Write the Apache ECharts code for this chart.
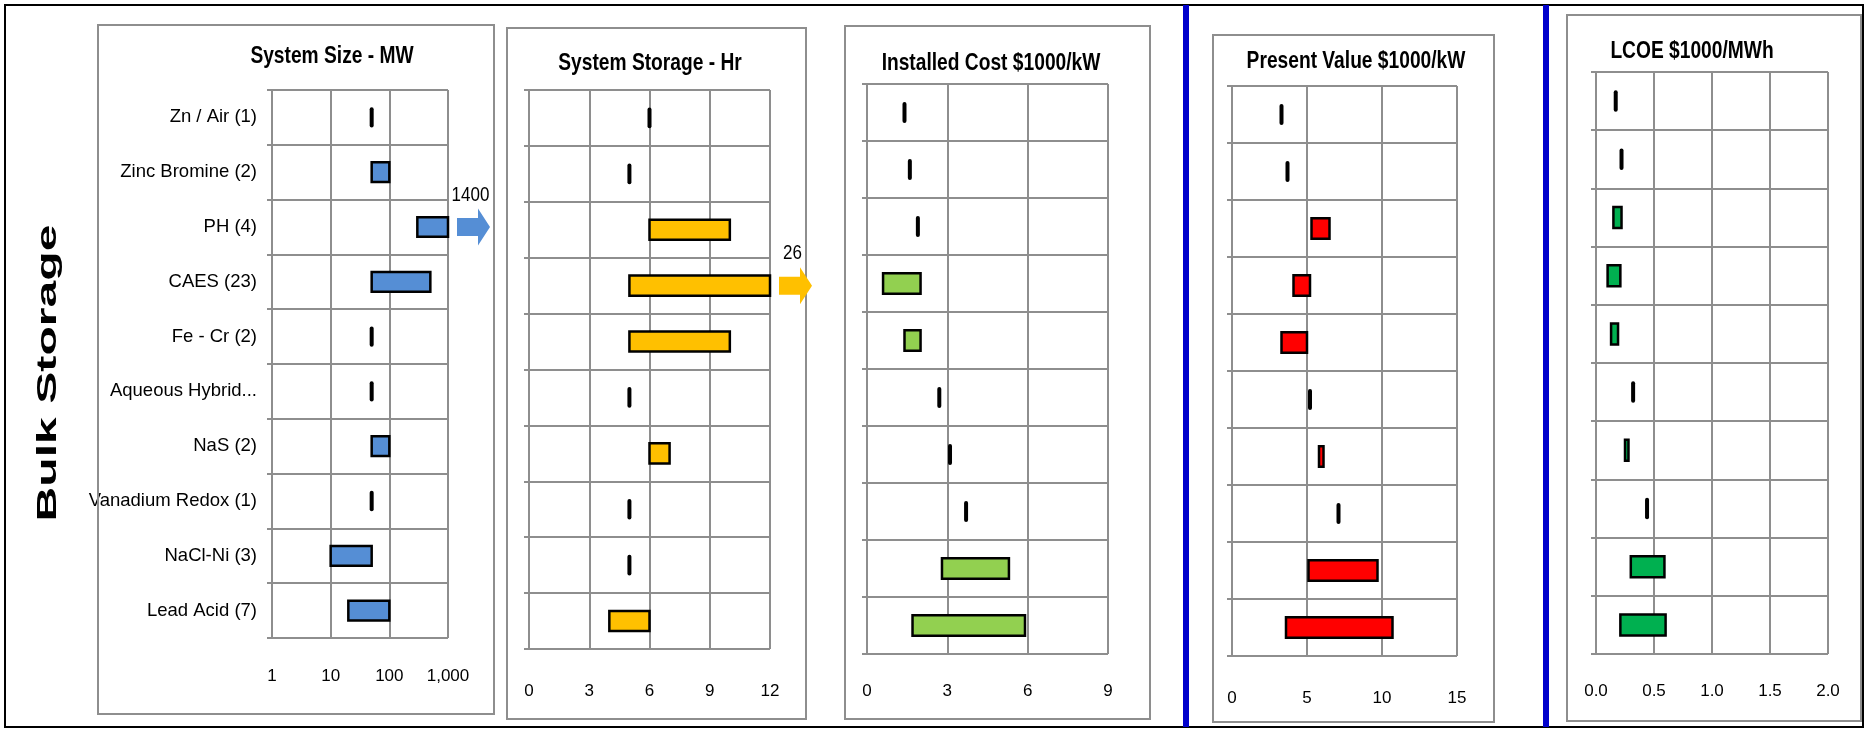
<!DOCTYPE html>
<html>
<head>
<meta charset="utf-8">
<script src="https://cdn.jsdelivr.net/npm/echarts@6/dist/echarts.min.js"></script>
<style>
html,body{margin:0;padding:0;background:#fff;}
#chart{width:1868px;height:732px;}
</style>
</head>
<body>
<div id="chart"></div>
<script>
// ---------------- DATA ----------------
const categories = ['Zn / Air (1)', 'Zinc Bromine (2)', 'PH (4)', 'CAES (23)', 'Fe - Cr (2)',
  'Aqueous Hybrid...', 'NaS (2)', 'Vanadium Redox (1)', 'NaCl-Ni (3)', 'Lead Acid (7)'];

const panelTitles = ['System Size - MW', 'System Storage - Hr', 'Installed Cost $1000/kW',
  'Present Value $1000/kW', 'LCOE $1000/MWh'];

const sizeLow   = [50, 50, 300, 50, 50, 50, 50, 50, 10, 20];
const sizeHigh  = [50, 100, 1400, 500, 50, 50, 100, 50, 50, 100];

const storageLow  = [6, 5, 6, 5, 5, 5, 6, 5, 5, 4];
const storageHigh = [6, 5, 10, 26, 10, 5, 7, 5, 5, 6];

const costLow  = [1.4, 1.6, 1.9, 0.6, 1.4, 2.7, 3.1, 3.7, 2.8, 1.7];
const costHigh = [1.4, 1.6, 1.9, 2.0, 2.0, 2.7, 3.1, 3.7, 5.3, 5.9];

const pvLow  = [3.3, 3.7, 5.3, 4.1, 3.3, 5.2, 5.8, 7.1, 5.1, 3.6];
const pvHigh = [3.3, 3.7, 6.5, 5.2, 5.0, 5.2, 6.1, 7.1, 9.7, 10.7];

const lcoeLow  = [0.17, 0.22, 0.15, 0.10, 0.13, 0.32, 0.25, 0.44, 0.30, 0.21];
const lcoeHigh = [0.17, 0.22, 0.22, 0.21, 0.19, 0.32, 0.28, 0.44, 0.59, 0.60];

const sideLabel = 'Bulk Storage';

// ---------------- STYLE / LAYOUT ----------------
const NARROW = "'Liberation Sans Narrow', 'Liberation Sans', Arial, sans-serif";
const GRID_COLOR = '#8E8E8E';

const panels = [
  { low: sizeLow, high: sizeHigh, type: 'log', min: 1, max: 1000, interval: null,
    color: '#558ED5', arrow: '#558ED5', grid: {left: 272, top: 90, width: 176, height: 548},
    box: [98, 25, 494, 714], titleXY: [332, 56], labelMargin: 30,
    fmt: v => v >= 1000 ? v.toLocaleString('en-US') : String(v) },
  { low: storageLow, high: storageHigh, type: 'value', min: 0, max: 12, interval: 3,
    color: '#FFC000', arrow: '#FFC000', grid: {left: 529, top: 90, width: 241, height: 559},
    box: [507, 28, 806, 719], titleXY: [650, 63], labelMargin: 34, fmt: v => String(v) },
  { low: costLow, high: costHigh, type: 'value', min: 0, max: 9, interval: 3,
    color: '#92D050', arrow: '#92D050', grid: {left: 867, top: 84, width: 241, height: 570},
    box: [845, 26, 1150, 719], titleXY: [991, 63], labelMargin: 29, fmt: v => String(v) },
  { low: pvLow, high: pvHigh, type: 'value', min: 0, max: 15, interval: 5,
    color: '#FF0000', arrow: '#FF0000', grid: {left: 1232, top: 86, width: 225, height: 570},
    box: [1213, 35, 1494, 722], titleXY: [1356, 61], labelMargin: 34, fmt: v => String(v) },
  { low: lcoeLow, high: lcoeHigh, type: 'value', min: 0, max: 2, interval: 0.5,
    color: '#00B050', arrow: '#00B050', grid: {left: 1596, top: 72, width: 232, height: 582},
    box: [1567, 15, 1861, 721], titleXY: [1692, 51], labelMargin: 29, fmt: v => v.toFixed(1) }
];

function makeRender(p) {
  return function (params, api) {
    const idx = api.value(0), lo = api.value(1), hi = api.value(2);
    const start = api.coord([lo, idx]);
    const cy = start[1];
    const band = api.size([0, 1])[1];
    if (lo === hi) {
      const h = band * 0.37;
      return { type: 'rect', shape: { x: start[0] - 2, y: cy - h / 2, width: 4, height: h, r: 2 },
               style: { fill: '#000' } };
    }
    const end = api.coord([Math.min(hi, p.max), idx]);
    const h = band * 0.36;
    const children = [{
      type: 'rect', shape: { x: start[0], y: cy - h / 2, width: end[0] - start[0], height: h },
      style: { fill: p.color, stroke: '#000', lineWidth: 2.5 }
    }];
    if (hi > p.max) {
      const x0 = end[0] + 9, bh = 9, hh = 18.5, bl = 21, hl = 12;
      children.push({ type: 'polygon', shape: { points: [[x0, cy - bh], [x0 + bl, cy - bh], [x0 + bl, cy - hh],
        [x0 + bl + hl, cy], [x0 + bl, cy + hh], [x0 + bl, cy + bh], [x0, cy + bh]] },
        style: { fill: p.arrow } });
      children.push({ type: 'text', x: x0 + (bl + hl) / 2 - 3, y: cy - 32, scaleX: 0.85,
        style: { text: String(hi), x: 0, y: 0,
        align: 'center', verticalAlign: 'middle', font: '20px ' + NARROW, fill: '#000' } });
    }
    return { type: 'group', children: children };
  };
}

const grids = [], xAxes = [], yAxes = [], series = [], graphics = [];

// outer border
graphics.push({ type: 'rect', shape: { x: 5, y: 5, width: 1858, height: 722 },
  style: { fill: 'none', stroke: '#000', lineWidth: 2 }, z: 1 });

panels.forEach((p, i) => {
  grids.push(Object.assign({ containLabel: false }, p.grid));
  xAxes.push({
    gridIndex: i, type: p.type, min: p.min, max: p.max,
    interval: p.interval == null ? undefined : p.interval, logBase: 10,
    axisLine: { show: false }, axisTick: { show: false },
    splitLine: { show: true, lineStyle: { color: GRID_COLOR, width: 2 } },
    axisLabel: { show: true, color: '#000', fontSize: 17, fontFamily: NARROW, margin: p.labelMargin,
      formatter: p.fmt }
  });
  yAxes.push({
    gridIndex: i, type: 'category', data: categories, inverse: true,
    axisLine: { show: false },
    axisTick: { show: true, length: 5, lineStyle: { color: GRID_COLOR, width: 2 } },
    splitLine: { show: true, interval: 0, lineStyle: { color: GRID_COLOR, width: 2 } },
    axisLabel: { show: i === 0, interval: 0, color: '#000', fontSize: 18.5, fontFamily: NARROW, margin: 15 }
  });
  series.push({
    type: 'custom', xAxisIndex: i, yAxisIndex: i, clip: false,
    renderItem: makeRender(p),
    encode: { x: [1, 2], y: 0 },
    data: categories.map((c, k) => [k, p.low[k], p.high[k]]),
    z: 5
  });
  const b = p.box;
  graphics.push({ type: 'rect', shape: { x: b[0], y: b[1], width: b[2] - b[0], height: b[3] - b[1] },
    style: { fill: 'none', stroke: GRID_COLOR, lineWidth: 2 }, z: 1 });
  graphics.push({ type: 'text', x: p.titleXY[0], y: p.titleXY[1], scaleX: 0.8,
    style: { text: panelTitles[i], x: 0, y: 0, font: 'bold 24px ' + NARROW, fill: '#000',
      align: 'center', verticalAlign: 'middle' }, z: 2 });
});

// blue separators
[1186, 1546].forEach(x => graphics.push({ type: 'rect', shape: { x: x - 3, y: 5, width: 6, height: 722 },
  style: { fill: '#0000CC' }, z: 2 }));

// side label
graphics.push({ type: 'text', x: 48, y: 373, rotation: Math.PI / 2, scaleX: 1.72,
  style: { text: sideLabel, x: 0, y: 0, font: 'bold 28px "Liberation Sans", Arial, sans-serif', fill: '#000',
    align: 'center', verticalAlign: 'middle' }, z: 2 });

const chart = echarts.init(document.getElementById('chart'), null, { renderer: 'canvas' });
chart.setOption({
  animation: false,
  backgroundColor: '#fff',
  grid: grids, xAxis: xAxes, yAxis: yAxes, series: series,
  graphic: { elements: graphics }
});
</script>
</body>
</html>
